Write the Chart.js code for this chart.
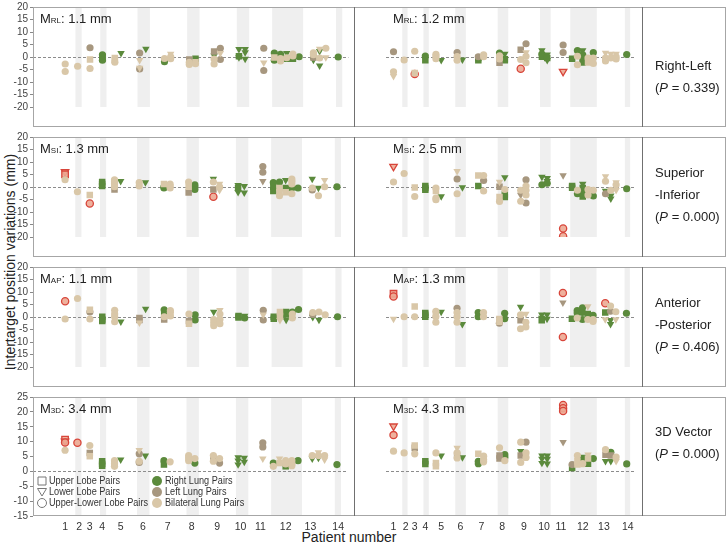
<!DOCTYPE html>
<html>
<head>
<meta charset="utf-8">
<script src="https://cdn.jsdelivr.net/npm/chart.js@4.4.1/dist/chart.umd.min.js"></script>
<style>
  body { margin: 0; background: #fff; font-family: "Liberation Sans", Arial, sans-serif; color: #222; }
  #wrap { position: relative; width: 728px; height: 544px; overflow: hidden; }
  #wrap canvas { position: absolute; }
  .frame { position: absolute; left: 33px; width: 693px; border: 1px solid #a6a6a6; box-sizing: border-box; pointer-events: none; }
  .vline { position: absolute; top: -1px; bottom: -1px; width: 1px; background: #707070; }
  .side { position: absolute; left: 655px; font-size: 13px; white-space: nowrap; transform: translateY(-50%); }
  #ytitle { position: absolute; left: 10px; top: 262px; font-size: 14px; white-space: nowrap; transform: translate(-50%, -50%) rotate(-90deg); }
  #xtitle { position: absolute; left: 349px; top: 537px; font-size: 14px; white-space: nowrap; transform: translate(-50%, -50%); }
</style>
</head>
<body>
<div id="wrap">
  <div id="ytitle">Intertarget position variations (mm)</div>
  <div id="xtitle">Patient number</div>
</div>
<script>
// patients and the column slots each one takes on the x axis
const patients = [1, 2, 3, 4, 5, 6, 7, 8, 9, 10, 11, 12, 13, 14];
const colCount = [1, 1, 1, 1, 2, 2, 2, 2, 2, 2, 1, 5, 3, 1];
const slotStart = [0, 2, 4, 6, 8, 12, 16, 20, 24, 28, 32, 33.7, 40, 44];
const tickPos = [0, 2.3, 4, 6, 9, 12.6, 16.6, 20.5, 24.6, 28.4, 31.6, 35.7, 39.7, 44.2];

const rowNames = [['Right-Left'], ['Superior', '-Inferior'], ['Anterior', '-Posterior'], ['3D Vector']];
const pValues = ['0.339', '0.000', '0.406', '0.000'];
const axisSub = ['RL', 'SI', 'AP', '3D'];
const meanFirst = [1.1, 1.3, 1.1, 3.4];
const meanSecond = [1.2, 2.5, 1.3, 4.3];
const yMin = [-20, -20, -20, -15];
const yMax = [20, 20, 20, 25];

// [patient, column, value (mm), shape c/s/t, group R/L/B/X]
const rlFirst = [
  [1,0,-2.8,'c','B'],[1,0,-5.8,'c','B'],[2,0,-3.7,'c','B'],
  [3,0,3.7,'c','L'],[3,0,-1.0,'s','B'],[3,0,-4.6,'c','B'],
  [4,0,0.9,'c','R'],[4,0,0.1,'s','R'],[4,0,-0.7,'s','R'],[4,0,-1.3,'c','R'],
  [5,0,-0.4,'s','B'],[5,0,-1.3,'s','B'],[5,0,-2.1,'c','B'],[5,1,1.5,'t','R'],
  [6,0,1.6,'c','L'],[6,0,-1.3,'t','B'],[6,0,-4.4,'t','B'],[6,0,-4.8,'c','L'],[6,1,3.2,'t','R'],
  [7,0,-0.6,'c','B'],[7,0,-1.9,'c','R'],[7,1,1.2,'t','B'],[7,1,0.1,'c','B'],[7,1,-0.7,'c','B'],
  [8,0,-1.0,'s','L'],[8,0,-2.1,'c','B'],[8,0,-3.0,'c','B'],[8,1,-0.7,'s','R'],[8,1,-2.1,'s','B'],[8,1,-2.7,'c','B'],
  [9,0,2.2,'s','L'],[9,0,0.5,'t','R'],[9,0,-0.8,'c','B'],[9,0,-2.8,'c','B'],[9,1,3.5,'c','L'],[9,1,1.5,'t','B'],[9,1,-1.0,'c','L'],
  [10,0,3.1,'t','R'],[10,0,0.3,'s','R'],[10,0,-0.2,'t','R'],[10,1,3.1,'t','R'],[10,1,1.8,'t','R'],[10,1,-0.8,'t','R'],
  [11,0,3.5,'c','L'],[11,0,-2.3,'t','B'],[11,0,-5.4,'c','L'],
  [12,0,1.6,'c','R'],[12,0,-0.2,'s','B'],[12,0,-1.3,'c','R'],[12,1,1.1,'c','R'],[12,1,-0.6,'c','B'],[12,1,-1.6,'c','B'],
  [12,2,1.5,'t','R'],[12,2,-0.3,'c','B'],[12,2,-0.7,'s','R'],[12,3,1.2,'c','B'],[12,3,0.4,'c','B'],[12,3,-0.7,'s','R'],[12,4,0.1,'c','R'],
  [13,0,1.7,'c','B'],[13,0,0.9,'c','B'],[13,0,-0.2,'s','L'],[13,0,-1.2,'t','R'],[13,1,3.2,'t','B'],[13,1,2.3,'t','R'],
  [13,1,-0.4,'c','B'],[13,1,-3.5,'t','R'],[13,2,3.5,'c','B'],[13,2,-0.2,'t','B'],
  [14,0,0,'c','R']
];
const rlSecond = [
  [1,0,2.1,'c','L'],[1,0,-5.9,'c','B'],[1,0,-7.7,'t','B'],[2,0,-1.2,'c','B'],
  [3,0,2.3,'c','B'],[3,0,-6.4,'s','B'],[3,0,-6.8,'c','X'],
  [4,0,0.4,'c','R'],[4,0,-1.3,'s','R'],
  [5,0,1.1,'c','B'],[5,0,0.3,'c','B'],[5,0,-0.7,'c','B'],[5,1,-1.3,'t','R'],
  [6,0,1.8,'c','L'],[6,0,0.2,'c','B'],[6,0,-1.3,'c','B'],[6,1,-1.1,'t','R'],
  [7,0,0.1,'c','L'],[7,0,-0.4,'s','R'],[7,0,-1.3,'s','R'],[7,1,0.9,'c','B'],[7,1,0.1,'c','B'],
  [8,0,1.6,'c','R'],[8,0,0.5,'c','B'],[8,0,-0.8,'c','B'],[8,0,-2.3,'s','L'],[8,1,1.2,'t','R'],[8,1,-0.9,'s','R'],[8,1,-1.3,'s','R'],
  [9,0,2.9,'s','L'],[9,0,-1.0,'c','B'],[9,0,-4.7,'c','X'],[9,1,5.3,'c','L'],[9,1,1.8,'t','B'],[9,1,0.3,'c','B'],[9,1,-2.3,'c','B'],
  [10,0,2.6,'t','R'],[10,0,1.2,'c','R'],[10,0,0.1,'s','R'],[10,1,0.9,'t','R'],[10,1,-0.4,'s','R'],[10,1,-1.3,'t','R'],
  [11,0,4.8,'c','L'],[11,0,1.8,'c','L'],[11,0,-5.8,'t','X'],
  [12,0,-0.7,'s','R'],[12,1,2.6,'c','R'],[12,1,0.3,'c','B'],[12,1,-3.1,'c','B'],[12,2,2.6,'t','R'],[12,2,0.9,'c','R'],
  [12,2,-1.3,'s','R'],[12,2,-2.2,'s','R'],[12,3,-0.4,'c','B'],[12,3,-2.2,'s','B'],[12,4,1.8,'c','R'],[12,4,-0.4,'c','B'],[12,4,-2.6,'c','B'],
  [13,0,1.6,'t','B'],[13,0,-0.4,'c','B'],[13,0,-1.6,'c','B'],[13,1,1.2,'t','B'],[13,1,-0.4,'c','B'],
  [13,2,1.2,'t','B'],[13,2,0.1,'c','B'],[13,2,-0.8,'c','B'],
  [14,0,1.0,'c','R']
];
const siFirst = [
  [1,0,6.1,'t','X'],[1,0,5.1,'s','X'],[1,0,2.9,'c','B'],[2,0,-1.9,'c','B'],
  [3,0,-3.2,'s','B'],[3,0,-6.6,'c','X'],
  [4,0,2.0,'s','R'],[4,0,1.2,'s','R'],[4,0,0.4,'s','R'],
  [5,0,2.9,'c','B'],[5,0,2.0,'c','B'],[5,0,1.2,'c','B'],[5,0,0.1,'c','B'],[5,0,-1.0,'s','L'],[5,1,2.3,'t','R'],
  [6,0,1.8,'c','B'],[6,0,0.4,'c','B'],[6,1,1.8,'t','R'],
  [7,0,1.2,'s','B'],[7,0,0.1,'c','R'],[7,0,-0.4,'c','R'],[7,1,1.2,'c','B'],[7,1,0.4,'c','B'],[7,1,-0.4,'c','B'],
  [8,0,2.0,'c','B'],[8,0,0.1,'s','B'],[8,0,-2.2,'s','L'],[8,1,0.9,'c','R'],[8,1,0.1,'c','R'],[8,1,-1.0,'c','R'],
  [9,0,3.2,'t','R'],[9,0,2.0,'c','B'],[9,0,-1.0,'s','L'],[9,0,-3.9,'c','X'],[9,1,1.2,'t','B'],[9,1,0.1,'c','B'],[9,1,-1.3,'t','B'],
  [10,0,0.7,'t','R'],[10,0,-0.4,'s','R'],[10,0,-2.1,'t','R'],[10,1,0.3,'t','R'],[10,1,-2.3,'t','R'],
  [11,0,8.2,'c','L'],[11,0,5.9,'c','L'],[11,0,2.3,'t','L'],
  [12,0,1.8,'c','R'],[12,0,0.1,'s','R'],[12,0,-1.6,'s','R'],[12,1,2.0,'c','R'],[12,1,-0.4,'s','B'],[12,1,-2.1,'s','B'],[12,1,-3.5,'c','B'],
  [12,2,2.7,'t','R'],[12,2,-0.4,'s','R'],[12,2,-2.1,'s','B'],[12,3,3.2,'c','B'],[12,3,2.3,'c','B'],[12,3,1.2,'c','B'],
  [12,3,-0.4,'c','R'],[12,3,-2.7,'c','B'],[12,4,-0.4,'c','R'],
  [13,0,3.2,'t','R'],[13,0,-0.4,'c','B'],[13,0,-1.2,'c','L'],[13,1,-0.4,'t','R'],[13,1,-3.5,'c','B'],[13,2,2.7,'t','B'],[13,2,0.1,'c','B'],
  [14,0,0.1,'c','R']
];
const siSecond = [
  [1,0,8.2,'t','X'],[1,0,2.0,'c','B'],[2,0,5.4,'c','B'],
  [3,0,-0.2,'s','B'],[3,0,-3.8,'c','B'],
  [4,0,0.4,'s','R'],[4,0,-0.4,'s','R'],[4,0,-1.1,'s','R'],
  [5,0,-0.4,'c','B'],[5,0,-1.6,'s','B'],[5,0,-4.4,'c','B'],[5,0,-5.1,'c','B'],[5,1,-3.8,'t','R'],
  [6,0,6.3,'t','B'],[6,0,3.2,'c','L'],[6,0,-2.7,'c','B'],[6,1,-0.2,'t','R'],
  [7,0,4.6,'s','B'],[7,0,0.4,'s','R'],[7,1,4.6,'c','B'],[7,1,2.6,'c','L'],[7,1,-1.6,'c','B'],
  [8,0,2.0,'t','B'],[8,0,0.1,'s','L'],[8,0,-4.0,'s','B'],[8,0,-5.8,'c','B'],[8,1,3.8,'t','R'],[8,1,-1.0,'c','B'],[8,1,-3.0,'s','R'],[8,1,-4.0,'s','R'],
  [9,0,-1.3,'c','B'],[9,0,-3.2,'t','L'],[9,0,-5.7,'c','B'],[9,1,2.9,'c','L'],[9,1,0.4,'c','B'],[9,1,-1.3,'c','B'],[9,1,-3.2,'c','B'],[9,1,-6.4,'c','L'],
  [10,0,4.0,'t','R'],[10,0,0.9,'c','R'],[10,1,3.5,'t','R'],[10,1,2.3,'t','R'],[10,1,1.5,'c','R'],
  [11,0,4.6,'t','L'],[11,0,-16.6,'c','X'],[11,0,-19.7,'c','X'],
  [12,0,0.4,'s','R'],[12,0,-0.3,'s','R'],[12,1,-1.3,'c','B'],[12,1,-2.7,'c','R'],[12,2,1.2,'t','R'],[12,2,-0.4,'s','R'],
  [12,2,-2.7,'s','R'],[12,2,-3.8,'s','R'],[12,3,-1.0,'c','B'],[12,3,-3.2,'c','B'],[12,4,-1.3,'c','B'],[12,4,-3.6,'c','R'],
  [13,0,4.2,'t','B'],[13,0,2.3,'c','B'],[13,0,-1.6,'t','R'],[13,0,-2.7,'c','L'],[13,1,-1.3,'c','B'],[13,1,-3.5,'t','R'],
  [13,1,-4.7,'t','R'],[13,2,1.8,'t','B'],[13,2,0.9,'c','B'],[13,2,-1.3,'t','B'],
  [14,0,-0.7,'c','R']
];
const apFirst = [
  [1,0,6.3,'c','X'],[1,0,-0.8,'c','B'],[2,0,7.4,'c','B'],
  [3,0,2.9,'s','B'],[3,0,2.0,'c','L'],[3,0,-0.8,'c','B'],
  [4,0,0.1,'s','R'],[4,0,-1.0,'s','R'],[4,0,-1.6,'s','R'],
  [5,0,2.7,'c','B'],[5,0,1.2,'c','B'],[5,0,0.1,'c','B'],[5,0,-1.9,'c','B'],[5,1,-1.9,'t','R'],
  [6,0,-0.4,'s','L'],[6,0,-1.2,'s','L'],[6,0,-2.3,'t','B'],[6,1,3.2,'t','R'],
  [7,0,2.9,'c','R'],[7,0,2.0,'s','R'],[7,0,0.1,'c','B'],[7,0,-1.0,'s','L'],[7,1,2.6,'c','B'],[7,1,1.8,'c','B'],[7,1,0.4,'c','B'],
  [8,0,1.2,'c','B'],[8,0,-1.6,'s','L'],[8,0,-2.7,'s','B'],[8,1,0.9,'c','R'],[8,1,-1.2,'c','R'],
  [9,0,2.0,'t','R'],[9,0,-1.0,'c','B'],[9,0,-2.3,'c','B'],[9,0,-3.5,'c','B'],[9,1,2.7,'t','B'],[9,1,1.2,'c','B'],[9,1,-1.0,'c','B'],[9,1,-2.7,'c','B'],
  [10,0,0.4,'s','R'],[10,0,-0.2,'s','R'],[10,1,0.4,'t','R'],[10,1,-0.4,'c','R'],
  [11,0,2.7,'c','L'],[11,0,0.9,'t','B'],[11,0,-1.2,'c','L'],
  [12,0,0.1,'s','R'],[12,0,-0.7,'s','R'],[12,1,2.0,'s','B'],[12,1,0.4,'s','B'],[12,1,-1.3,'t','B'],[12,2,2.0,'s','R'],
  [12,2,1.0,'s','R'],[12,2,-1.2,'t','R'],[12,3,2.0,'c','R'],[12,3,1.2,'c','B'],[12,3,-0.4,'c','B'],[12,4,3.0,'c','R'],
  [13,0,1.8,'c','B'],[13,0,1.0,'c','L'],[13,0,-0.1,'t','R'],[13,1,2.0,'c','B'],[13,1,-1.2,'t','R'],[13,2,0.9,'c','B'],
  [14,0,0.1,'c','R']
];
const apSecond = [
  [1,0,9.3,'s','X'],[1,0,8.2,'c','X'],[1,0,-0.8,'t','B'],[2,0,0.1,'c','B'],
  [3,0,4.2,'s','B'],[3,0,0.1,'c','B'],
  [4,0,1.6,'s','R'],[4,0,0.9,'s','R'],[4,0,0.1,'s','R'],
  [5,0,2.3,'c','B'],[5,0,1.2,'s','B'],[5,0,0.1,'c','B'],[5,0,-2.1,'c','B'],[5,1,2.0,'t','R'],
  [6,0,3.5,'c','L'],[6,0,1.8,'c','B'],[6,0,0.1,'c','B'],[6,0,-2.1,'c','B'],[6,1,-2.9,'t','R'],
  [7,0,1.8,'c','R'],[7,0,0.1,'c','R'],[7,1,1.8,'c','B'],[7,1,0.1,'c','B'],
  [8,0,-0.8,'s','B'],[8,0,-1.9,'s','B'],[8,0,-2.5,'c','L'],[8,1,1.5,'c','R'],[8,1,-0.7,'c','R'],
  [9,0,4.0,'t','R'],[9,0,0.9,'c','B'],[9,0,-1.3,'s','L'],[9,0,-4.7,'c','B'],[9,1,1.2,'t','B'],[9,1,-2.1,'c','B'],[9,1,-4.0,'c','B'],
  [10,0,0.9,'t','R'],[10,0,-0.4,'t','R'],[10,0,-1.3,'s','R'],[10,1,0.9,'t','R'],[10,1,-0.8,'t','R'],
  [11,0,9.6,'c','X'],[11,0,5.7,'t','L'],[11,0,-8.0,'c','X'],
  [12,0,-0.7,'s','R'],[12,1,2.6,'c','R'],[12,1,1.6,'c','R'],[12,1,-0.4,'c','B'],[12,2,3.7,'c','R'],[12,2,1.8,'c','R'],
  [12,2,-1.0,'c','R'],[12,3,4.2,'t','B'],[12,3,1.2,'s','R'],[12,3,-1.0,'c','B'],[12,4,0.7,'c','R'],[12,4,-1.0,'c','B'],[12,4,-1.8,'c','B'],
  [13,0,5.5,'c','X'],[13,0,1.8,'s','R'],[13,0,-1.0,'t','B'],[13,1,4.4,'c','B'],[13,1,2.3,'c','L'],[13,1,-1.3,'t','R'],
  [13,1,-2.9,'t','R'],[13,2,2.1,'c','B'],[13,2,-1.0,'t','B'],
  [14,0,1.5,'c','R']
];
const vecFirst = [
  [1,0,10.7,'s','X'],[1,0,10.1,'t','X'],[1,0,9.7,'c','X'],[1,0,7.1,'c','B'],[2,0,9.6,'c','X'],
  [3,0,8.7,'c','B'],[3,0,6.2,'s','L'],[3,0,5.1,'s','B'],
  [4,0,3.4,'s','R'],[4,0,2.5,'s','R'],[4,0,1.9,'s','R'],
  [5,0,3.6,'c','B'],[5,0,2.5,'c','B'],[5,0,1.7,'c','B'],[5,1,3.9,'t','R'],
  [6,0,7.1,'t','B'],[6,0,5.9,'c','L'],[6,0,3.4,'c','B'],[6,0,3.0,'c','L'],[6,1,5.3,'t','R'],
  [7,0,3.6,'c','R'],[7,0,2.3,'s','R'],[7,1,3.2,'c','B'],
  [8,0,5.3,'c','B'],[8,0,4.5,'c','B'],[8,0,3.6,'c','B'],[8,1,4.3,'c','B'],[8,1,2.8,'c','R'],
  [9,0,5.3,'c','B'],[9,0,4.3,'s','L'],[9,0,3.4,'c','B'],[9,1,4.3,'c','B'],[9,1,2.8,'c','L'],
  [10,0,4.7,'t','R'],[10,0,3.6,'t','R'],[10,0,2.3,'t','R'],[10,1,4.5,'t','R'],[10,1,3.2,'t','R'],
  [11,0,9.6,'c','L'],[11,0,8.2,'c','L'],[11,0,4.3,'t','B'],
  [12,0,2.8,'c','R'],[12,0,1.7,'c','B'],[12,1,4.3,'t','B'],[12,1,2.8,'s','B'],[12,2,3.6,'c','B'],[12,2,2.5,'c','B'],
  [12,2,1.7,'s','R'],[12,3,3.6,'c','B'],[12,3,2.6,'c','B'],[12,3,1.9,'c','B'],[12,4,3.6,'c','R'],
  [13,0,5.3,'c','B'],[13,0,4.3,'t','R'],[13,1,6.4,'t','B'],[13,1,5.3,'c','B'],[13,1,4.5,'t','R'],[13,2,5.3,'c','B'],[13,2,3.9,'t','B'],
  [14,0,2.3,'c','R']
];
const vecSecond = [
  [1,0,15.2,'t','X'],[1,0,12.2,'c','X'],[1,0,6.8,'c','B'],[2,0,6.2,'c','B'],
  [3,0,8.7,'s','B'],[3,0,7.9,'s','L'],[3,0,5.9,'c','B'],
  [4,0,3.4,'s','R'],[4,0,2.5,'s','R'],
  [5,0,6.2,'c','B'],[5,0,2.8,'s','B'],[5,0,1.7,'s','B'],[5,1,5.3,'t','R'],
  [6,0,7.9,'t','B'],[6,0,6.2,'c','B'],[6,0,5.3,'s','L'],[6,0,4.5,'c','B'],[6,1,4.7,'t','R'],
  [7,0,5.9,'s','B'],[7,0,3.4,'c','R'],[7,0,2.6,'c','R'],[7,1,5.1,'c','B'],[7,1,3.9,'c','B'],[7,1,3.2,'c','B'],
  [8,0,7.9,'c','B'],[8,0,5.3,'s','L'],[8,0,4.3,'s','L'],[8,1,5.6,'c','R'],[8,1,4.7,'c','R'],[8,1,3.6,'c','B'],
  [9,0,9.8,'c','B'],[9,0,6.8,'t','R'],[9,0,5.3,'s','L'],[9,0,3.0,'c','B'],[9,1,9.8,'c','L'],[9,1,6.2,'c','B'],[9,1,4.7,'c','B'],
  [10,0,5.3,'t','R'],[10,0,4.2,'t','R'],[10,0,2.8,'t','R'],[10,1,5.3,'t','R'],[10,1,4.2,'t','R'],[10,1,2.6,'t','R'],
  [11,0,22.3,'c','X'],[11,0,21.2,'c','X'],[11,0,20.3,'c','X'],[11,0,9.8,'t','L'],
  [12,0,2.3,'c','L'],[12,0,1.1,'s','R'],[12,1,5.3,'c','B'],[12,1,3.4,'s','B'],[12,1,2.3,'s','B'],[12,2,4.5,'s','R'],
  [12,2,3.4,'s','R'],[12,2,2.6,'c','B'],[12,3,5.6,'t','B'],[12,3,4.3,'s','B'],[12,3,2.6,'s','R'],[12,4,4.3,'c','R'],
  [13,0,7.3,'c','B'],[13,0,5.6,'s','L'],[13,0,3.4,'t','R'],[13,1,6.4,'c','R'],[13,1,5.3,'s','L'],[13,1,3.4,'t','R'],
  [13,2,4.8,'c','B'],[13,2,3.4,'t','B'],
  [14,0,2.5,'c','R']
];

const rowData = [[rlFirst, rlSecond], [siFirst, siSecond], [apFirst, apSecond], [vecFirst, vecSecond]];

// layout
const areaTop = [7, 137, 267, 397];
const areaH = [120, 120, 120, 119];
const sideTop = [65, 172, 302, 431];
const FONT = '"Liberation Sans", Arial, sans-serif';

const groups = [
  { key: 'B', fill: '#d9c7a8', border: '#d9c7a8', bw: 0 },
  { key: 'L', fill: '#a7977f', border: '#a7977f', bw: 0 },
  { key: 'R', fill: '#5b8a3c', border: '#5b8a3c', bw: 0 },
  { key: 'X', fill: 'rgba(236,168,146,0.9)', border: '#d8453a', bw: 1.3 }
];
const styleOf = { c: 'circle', s: 'rect', t: 'triangle' };
const radiusOf = { c: 3.6, s: 4.6, t: 4.3 };

function datasetsFor(points) {
  return groups.map(g => {
    const pts = points.filter(p => p[4] === g.key);
    return {
      data: pts.map(p => ({ x: slotStart[p[0] - 1] + p[1], y: p[2] })),
      pointStyle: pts.map(p => styleOf[p[3]]),
      pointRadius: pts.map(p => radiusOf[p[3]]),
      pointRotation: pts.map(p => p[3] === 't' ? 180 : 0),
      pointBackgroundColor: g.fill,
      pointBorderColor: g.border,
      pointBorderWidth: g.bw
    };
  });
}

const bandsPlugin = {
  id: 'bands',
  beforeDatasetsDraw(chart) {
    const { ctx, chartArea: a, scales: { x, y } } = chart;
    ctx.save();
    ctx.fillStyle = '#efefef';
    patients.forEach((p, i) => {
      if (p % 2 !== 0) return;
      const x0 = x.getPixelForValue(slotStart[i] - 0.35);
      const x1 = x.getPixelForValue(slotStart[i] + colCount[i] - 0.35);
      ctx.fillRect(x0, a.top, x1 - x0, a.bottom - a.top);
    });
    const y0 = Math.round(y.getPixelForValue(0)) + 0.5;
    ctx.strokeStyle = '#8c8c8c';
    ctx.lineWidth = 1;
    ctx.setLineDash([3, 2]);
    ctx.beginPath();
    ctx.moveTo(a.left, y0);
    ctx.lineTo(a.right, y0);
    ctx.stroke();
    ctx.restore();
  }
};

function condensedText(ctx, text, x, y) {
  ctx.save();
  ctx.translate(x, y);
  ctx.scale(0.87, 1);
  ctx.fillText(text, 0, 0);
  ctx.restore();
}

function drawLegend(ctx, a) {
  const rowsY = [a.bottom - 35, a.bottom - 24, a.bottom - 13];
  const lobe = ['Upper Lobe Pairs', 'Lower Lobe Pairs', 'Upper-Lower Lobe Pairs'];
  const lung = ['Right Lung Pairs', 'Left Lung Pairs', 'Bilateral Lung Pairs'];
  const lungColors = ['#5b8a3c', '#a7977f', '#d9c7a8'];
  const cx = a.left + 9, tx = a.left + 16, cx2 = a.left + 124, tx2 = a.left + 132;
  ctx.font = '10.5px ' + FONT;
  ctx.textBaseline = 'middle';
  ctx.strokeStyle = '#777';
  ctx.lineWidth = 1;
  rowsY.forEach((yy, i) => {
    ctx.beginPath();
    if (i === 0) ctx.rect(cx - 4, yy - 4, 8, 8);
    if (i === 1) { ctx.moveTo(cx - 4.5, yy - 3.5); ctx.lineTo(cx + 4.5, yy - 3.5); ctx.lineTo(cx, yy + 4); ctx.closePath(); }
    if (i === 2) ctx.arc(cx, yy, 4.5, 0, Math.PI * 2);
    ctx.stroke();
    ctx.fillStyle = '#333';
    condensedText(ctx, lobe[i], tx, yy);
    ctx.fillStyle = lungColors[i];
    ctx.beginPath();
    ctx.arc(cx2, yy, 5, 0, Math.PI * 2);
    ctx.fill();
    ctx.fillStyle = '#333';
    condensedText(ctx, lung[i], tx2, yy);
  });
}

const labelPlugin = {
  id: 'panelLabel',
  afterDraw(chart, args, opts) {
    const { ctx, chartArea: a } = chart;
    let x = a.left + 7;
    const y = a.top + 12;
    ctx.save();
    ctx.fillStyle = '#222';
    ctx.textBaseline = 'middle';
    ctx.font = '13px ' + FONT;
    ctx.fillText('M', x, y);
    x += ctx.measureText('M').width;
    ctx.font = '8px ' + FONT;
    ctx.fillText(opts.sub, x, y + 1.5);
    x += ctx.measureText(opts.sub).width;
    ctx.font = '13px ' + FONT;
    ctx.fillText(': ' + opts.value + ' mm', x, y);
    if (opts.legend) drawLegend(ctx, a);
    ctx.restore();
  }
};

const wrap = document.getElementById('wrap');

function makeChart(row, half) {
  const bottomRow = row === 3;
  const left = half === 0 ? 0 : 353;
  const width = half === 0 ? 353 : 288;
  const height = areaH[row] + 8 + (bottomRow ? 20 : 8);
  const c = document.createElement('canvas');
  c.width = width;
  c.height = height;
  c.style.left = left + 'px';
  c.style.top = (areaTop[row] - 8) + 'px';
  c.style.width = width + 'px';
  c.style.height = height + 'px';
  wrap.appendChild(c);

  new Chart(c, {
    type: 'scatter',
    data: { datasets: datasetsFor(rowData[row][half]) },
    options: {
      responsive: false,
      animation: false,
      events: [],
      layout: { padding: { top: 8, bottom: bottomRow ? 0 : 8, left: 0, right: 0 } },
      plugins: {
        legend: { display: false },
        tooltip: { enabled: false },
        panelLabel: {
          sub: axisSub[row],
          value: (half === 0 ? meanFirst : meanSecond)[row].toFixed(1),
          legend: bottomRow && half === 0
        }
      },
      scales: {
        x: {
          type: 'linear',
          min: half === 0 ? -5.19 : -1.42,
          max: 45.64,
          display: bottomRow,
          grid: { display: false, drawTicks: false },
          border: { display: false },
          afterBuildTicks: s => { s.ticks = tickPos.map(v => ({ value: v })); },
          afterFit: s => { s.height = 20; },
          ticks: {
            autoSkip: false,
            maxRotation: 0,
            padding: 5,
            color: '#333',
            font: { family: FONT, size: 10.5 },
            callback: (v, i) => patients[i]
          }
        },
        y: {
          min: yMin[row],
          max: yMax[row],
          display: half === 0,
          border: { display: false },
          grid: { drawOnChartArea: false, tickLength: 3, color: '#888' },
          afterFit: s => { s.width = 33; },
          ticks: { stepSize: 5, autoSkip: false, padding: 2, color: '#444', font: { family: FONT, size: 10 } }
        }
      }
    },
    plugins: [bandsPlugin, labelPlugin]
  });
}

for (let r = 0; r < 4; r++) {
  makeChart(r, 0);
  makeChart(r, 1);

  const f = document.createElement('div');
  f.className = 'frame';
  f.style.top = areaTop[r] + 'px';
  f.style.height = areaH[r] + 'px';
  [320, 608].forEach(off => {
    const v = document.createElement('div');
    v.className = 'vline';
    v.style.left = off + 'px';
    f.appendChild(v);
  });
  wrap.appendChild(f);

  const lines = rowNames[r].concat(['(<i>P</i> = ' + pValues[r] + ')']);
  lines.forEach((t, i) => {
    const d = document.createElement('div');
    d.className = 'side';
    d.style.top = (sideTop[r] + i * 22) + 'px';
    d.innerHTML = t;
    wrap.appendChild(d);
  });
}
</script>
</body>
</html>
